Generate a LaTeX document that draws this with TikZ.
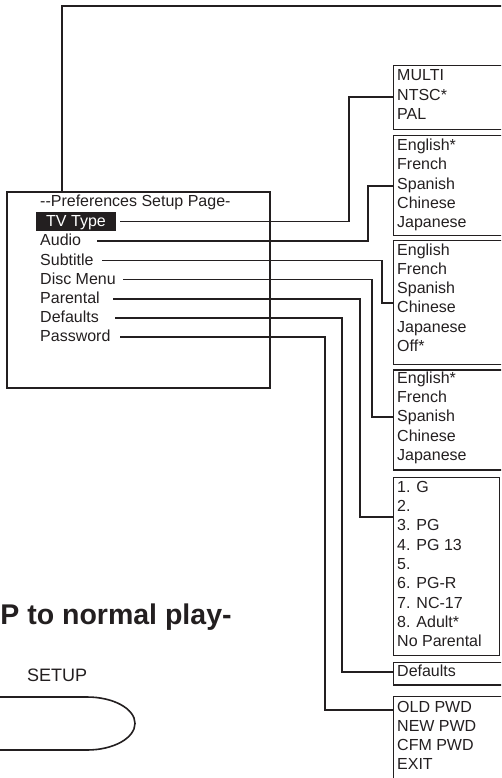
\documentclass[tikz,border=0pt]{standalone}
\usepackage{fontspec}
\setmainfont{Liberation Sans}
\definecolor{ink}{HTML}{231F20}
\begin{document}
\begin{tikzpicture}[x=1pt,y=-1pt,
  every node/.style={text=ink, font=\fontsize{16}{19}\selectfont},
  item/.style={anchor=base west, inner sep=0pt},
  menuitem/.style={anchor=base west, inner sep=0pt, text height=11.5pt, text depth=2pt},
  rbox/.style={draw=ink, line width=1.2pt, anchor=north west, inner sep=0pt, minimum width=117pt},
  conn/.style={draw=ink, line width=1.7pt},
  frame/.style={draw=ink, line width=2pt}]
\useasboundingbox (0,0) rectangle (501,778);
\clip (0,0) rectangle (501,778);

% main menu box
\node[frame, anchor=north west, inner sep=0pt, minimum width=263.3pt, minimum height=196pt] (menu) at (6,190.7) {};
\node[item] (title) at (40,206.7) {-{}-Preferences Setup Page-};
\node[fill=ink, text=white, inner sep=0pt, minimum width=80pt, minimum height=18.5pt, text height=11.5pt, text depth=1.1pt] (tv) at (76,221.5) {TV Type};
\node[menuitem] (audio) at (40,245.9) {Audio};
\node[menuitem] (subtitle) at (40,265.1) {Subtitle};
\node[menuitem] (disc) at (40,284.3) {Disc Menu};
\node[menuitem] (parental) at (40,303.5) {Parental};
\node[menuitem] (defaults) at (40,322.7) {Defaults};
\node[menuitem] (password) at (40,341.9) {Password};

% right option boxes
\node[rbox, minimum height=64.3pt] (b1) at (393,65) {};
\foreach \t [count=\i from 0] in {MULTI,NTSC*,PAL}
  \node[item] (b1-\i) at (397,81+19.4*\i) {\t};
\node[rbox, minimum height=100pt] (b2) at (393,135) {};
\foreach \t [count=\i from 0] in {English*,French,Spanish,Chinese,Japanese}
  \node[item] (b2-\i) at (397,150.7+19.3*\i) {\t};
\node[rbox, minimum height=124pt] (b3) at (393,240) {};
\foreach \t [count=\i from 0] in {English,French,Spanish,Chinese,Japanese,Off*}
  \node[item] (b3-\i) at (397,255+19.3*\i) {\t};
\node[rbox, minimum height=100pt] (b4) at (393,369.3) {};
\foreach \t [count=\i from 0] in {English*,French,Spanish,Chinese,Japanese}
  \node[item] (b4-\i) at (397,383.3+19.3*\i) {\t};
\node[rbox, minimum height=178.3pt, minimum width=105.5pt] (b5) at (393,476.7) {};
\foreach \t [count=\i from 0] in {1. G,2.,3. PG,4. PG 13,5.,6. PG-R,7. NC-17,8. Adult*,No Parental}
  \node[item] (b5-\i) at (397,492.3+19.3*\i) {\t};
\node[rbox, minimum height=22.6pt] (b6) at (393,661.7) {};
\node[item] (b6-0) at (397,676.7) {Defaults};
\node[rbox, minimum height=110pt] (b7) at (393,696) {};
\foreach \t [count=\i from 0] in {OLD PWD,NEW PWD,CFM PWD,EXIT}
  \node[item] (b7-\i) at (397,712+19.3*\i) {\t};

% connectors
\draw[conn] ([xshift=4pt]tv.east) -| (349,97.3) -- (b1.west |- 349,97.3);
\draw[conn] ([xshift=16pt]audio.east) -| (368.3,185.7) -- (b2.west |- 368.3,185.7);
\draw[conn] ([xshift=8.6pt]subtitle.east) -| (382.3,302.7) -- (b3.west |- 382.3,302.7);
\draw[conn] ([xshift=7.4pt]disc.east) -| (372.3,416.7) -- (b4.west |- 372.3,416.7);
\draw[conn] ([xshift=13.4pt]parental.east) -| (360,517.3) -- (b5.west |- 360,517.3);
\draw[conn] ([xshift=16.3pt]defaults.east) -| (342,671.7) -- (b6.west |- 342,671.7);
\draw[conn] ([xshift=9.8pt]password.east) -| (325,710) -- (b7.west |- 325,710);

% top connector leaving the picture
\coordinate (topend) at (520,5.7);
\draw[frame] (menu.north -| 61.7,0) |- (topend);

% note and SETUP button
\node[anchor=base, inner sep=0pt, font=\bfseries\fontsize{28.5}{32}\selectfont] (note) at (116,624) {P to normal play-};
\node[anchor=base west, inner sep=0pt, font=\fontsize{18}{21}\selectfont] (setup) at (27,681.7) {SETUP};
\draw[draw=ink, line width=1.6pt] (-60,697) -- (87,697) .. controls (113.5,697) and (135,708.8) .. (135,723.4) .. controls (135,738) and (113.5,750) .. (87,750) -- (-60,750);
\end{tikzpicture}
\end{document}
